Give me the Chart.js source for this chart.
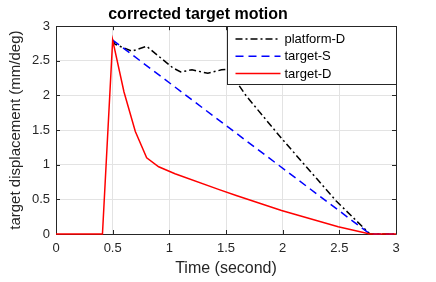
<!DOCTYPE html>
<html>
<head>
<meta charset="utf-8">
<script src="https://cdn.jsdelivr.net/npm/chart.js@4.4.0/dist/chart.umd.min.js"></script>
<style>
  html, body { margin: 0; padding: 0; background: #fff; }
  #wrap { width: 436px; height: 282px; }
</style>
</head>
<body>
<div id="wrap"><canvas id="myChart" width="436" height="282"></canvas></div>
<script>
// values
const platformT = [0.5, 0.52, 0.67, 0.80, 0.94, 1.03, 1.10, 1.20, 1.34, 1.46, 1.52, 1.60, 1.68, 1.99, 2.30, 2.47, 2.77, 3];
const platformD = [2.8, 2.74, 2.64, 2.71, 2.52, 2.40, 2.34, 2.37, 2.32, 2.37, 2.38, 2.18, 1.99, 1.38, 0.80, 0.48, 0, 0];

const targetST = [0.5, 2.77, 3];
const targetS  = [2.8, 0, 0];

const targetDT = [0, 0.41, 0.5, 0.6, 0.7, 0.8, 0.906, 1.05, 1.44, 1.59, 1.99, 2.49, 2.77, 3];
const targetD  = [0, 0, 2.8, 2.05, 1.48, 1.10, 0.97, 0.87, 0.64, 0.555, 0.34, 0.106, 0, 0];

const xTicks = [0, 0.5, 1, 1.5, 2, 2.5, 3];
const yTicks = [0, 0.5, 1, 1.5, 2, 2.5, 3];

const FONT = 'Liberation Sans, Arial, Helvetica, sans-serif';
const AXIS_COLOR = '#262626';

function pts(xs, ys) {
  return xs.map((x, i) => ({ x: x, y: ys[i] }));
}

// box round the axes with inward ticks, MATLAB style (drawn under the lines)
const boxPlugin = {
  id: 'box',
  beforeDatasetsDraw(chart) {
    const ctx = chart.ctx;
    const a = chart.chartArea;
    const xs = chart.scales.x, ys = chart.scales.y;
    ctx.save();
    ctx.strokeStyle = AXIS_COLOR;
    ctx.lineWidth = 1;
    ctx.beginPath();
    ctx.rect(Math.round(a.left) + 0.5, Math.round(a.top) + 0.5,
             Math.round(a.right - a.left), Math.round(a.bottom - a.top));
    ctx.stroke();
    const tl = 4;
    ctx.beginPath();
    xTicks.forEach(v => {
      const px = Math.round(xs.getPixelForValue(v)) + 0.5;
      ctx.moveTo(px, a.bottom); ctx.lineTo(px, a.bottom - tl);
      ctx.moveTo(px, a.top); ctx.lineTo(px, a.top + tl);
    });
    yTicks.forEach(v => {
      const py = Math.round(ys.getPixelForValue(v)) + 0.5;
      ctx.moveTo(a.left, py); ctx.lineTo(a.left + tl, py);
      ctx.moveTo(a.right, py); ctx.lineTo(a.right - tl, py);
    });
    ctx.stroke();
    ctx.restore();
  }
};

// legend box in the upper right corner
const legendPlugin = {
  id: 'boxLegend',
  afterDraw(chart) {
    const ctx = chart.ctx;
    const a = chart.chartArea;
    const w = 169, h = 58;
    const x0 = Math.round(a.right - w) + 0.5, y0 = Math.round(a.top) + 0.5;
    ctx.save();
    ctx.fillStyle = '#fff';
    ctx.fillRect(x0, y0, w, h);
    ctx.strokeStyle = AXIS_COLOR;
    ctx.lineWidth = 1;
    ctx.strokeRect(x0, y0, w, h);
    ctx.font = '13px ' + FONT;
    ctx.textBaseline = 'middle';
    chart.data.datasets.forEach((ds, i) => {
      const y = y0 + 12.5 + i * 17.3;
      ctx.strokeStyle = ds.borderColor;
      ctx.lineWidth = ds.borderWidth;
      ctx.setLineDash(ds.borderDash || []);
      ctx.beginPath();
      ctx.moveTo(x0 + 8, y);
      ctx.lineTo(x0 + 53, y);
      ctx.stroke();
      ctx.setLineDash([]);
      ctx.fillStyle = '#000';
      ctx.fillText(ds.label, x0 + 57, y + 0.5);
    });
    ctx.restore();
  }
};

const ctx = document.getElementById('myChart');
const myChart = new Chart(ctx, {
  type: 'line',
  data: {
    datasets: [
      {
        label: 'platform-D',
        data: pts(platformT, platformD),
        borderColor: '#000000',
        borderWidth: 1.5,
        borderDash: [7, 3, 2, 3],
        pointRadius: 0,
        tension: 0,
        order: 3,
        clip: 4
      },
      {
        label: 'target-S',
        data: pts(targetST, targetS),
        borderColor: '#0000ff',
        borderWidth: 1.5,
        borderDash: [8, 5],
        pointRadius: 0,
        tension: 0,
        order: 2,
        clip: 4
      },
      {
        label: 'target-D',
        data: pts(targetDT, targetD),
        borderColor: '#ff0000',
        borderWidth: 1.5,
        pointRadius: 0,
        tension: 0,
        order: 1,
        clip: 4
      }
    ]
  },
  options: {
    responsive: false,
    animation: false,
    devicePixelRatio: 1,
    layout: { padding: { left: 0, right: 40, top: 0, bottom: 0 } },
    plugins: {
      legend: { display: false },
      tooltip: { enabled: false },
      title: {
        display: true,
        text: 'corrected target motion',
        color: '#000',
        font: { family: FONT, size: 16, weight: 'bold' },
        padding: { top: 5, bottom: 2 }
      }
    },
    scales: {
      x: {
        type: 'linear',
        min: 0,
        max: 3,
        afterBuildTicks: s => { s.ticks = xTicks.map(v => ({ value: v })); },
        afterFit: s => { s.height = 48; },
        grid: { color: '#e3e3e3', drawTicks: false },
        border: { display: false },
        ticks: {
          color: AXIS_COLOR,
          padding: 7,
          maxRotation: 0,
          font: { family: FONT, size: 13 },
          callback: v => String(v)
        },
        title: {
          display: true,
          text: 'Time (second)',
          color: AXIS_COLOR,
          font: { family: FONT, size: 16 },
          padding: { top: 0, bottom: 4 }
        }
      },
      y: {
        min: 0,
        max: 3,
        afterBuildTicks: s => { s.ticks = yTicks.map(v => ({ value: v })); },
        afterFit: s => { s.width = 56; },
        grid: { color: '#e3e3e3', drawTicks: false },
        border: { display: false },
        ticks: {
          color: AXIS_COLOR,
          padding: 6,
          font: { family: FONT, size: 13 },
          callback: v => String(v)
        },
        title: {
          display: true,
          text: 'target displacement (mm/deg)',
          color: AXIS_COLOR,
          font: { family: FONT, size: 15 },
          padding: { top: 7, bottom: 0 }
        }
      }
    }
  },
  plugins: [boxPlugin, legendPlugin]
});
</script>
</body>
</html>
